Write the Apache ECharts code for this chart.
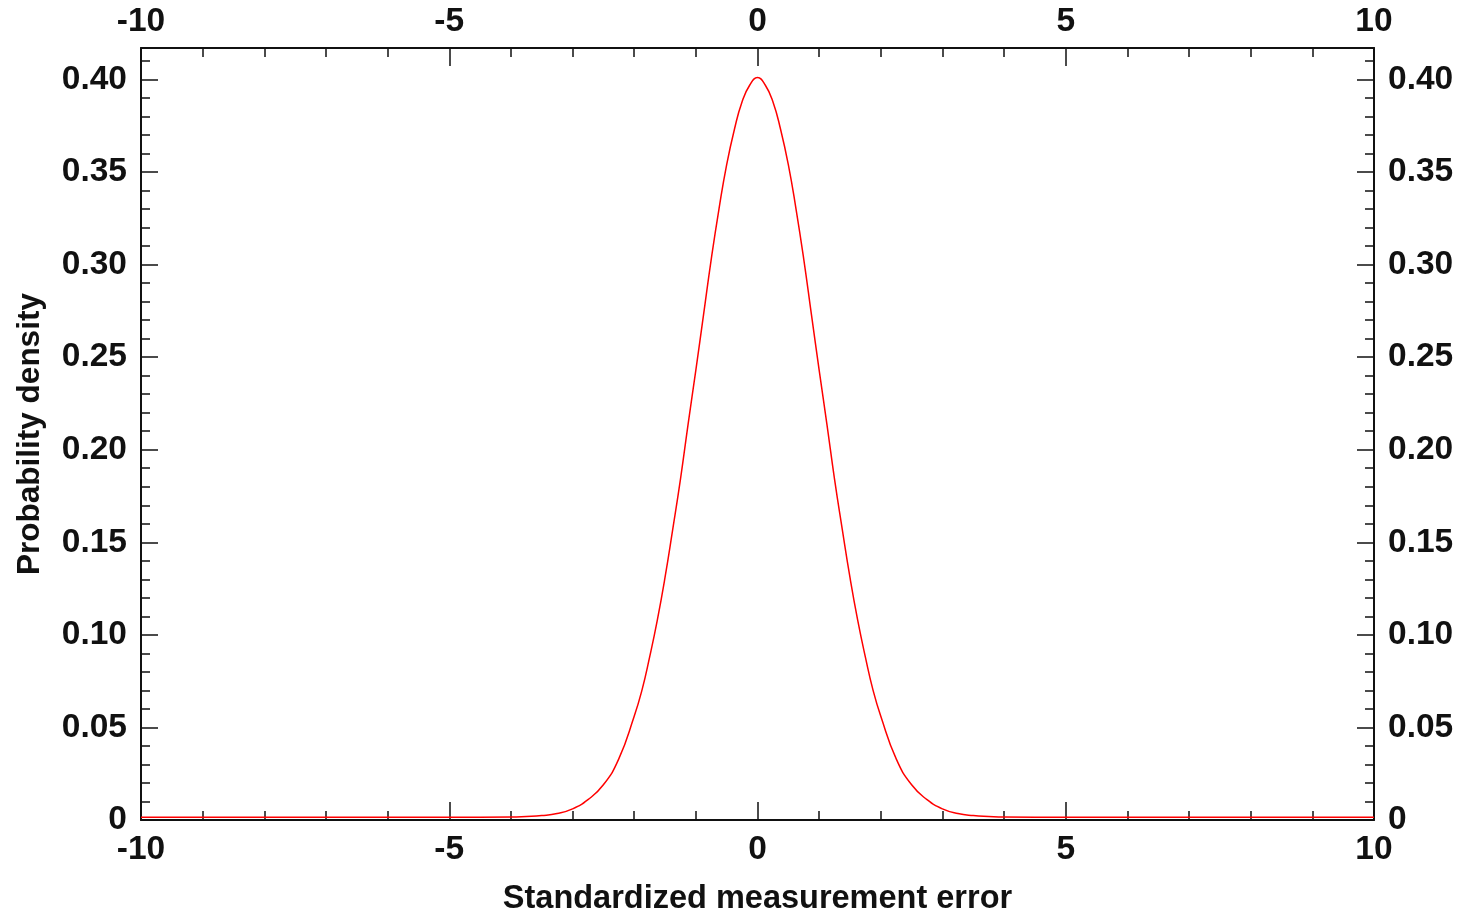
<!DOCTYPE html>
<html>
	<head>
		<meta charset="utf-8">
		<title>Probability density</title>
		<script src="https://cdn.jsdelivr.net/npm/echarts@6/dist/echarts.min.js"></script>
		<style type="text/css">
			html, body {
				margin: 0;
				padding: 0;
				background: #fff;
			}
			#chart {
				width: 1465px;
				height: 913px;
			}
		</style>
	</head>
	<body>
		<div id="chart"></div>
		<script>
			// values (x = standardized error, y = density)
			var errX = [-10, -5, -4, -3.75, -3.5, -3.25, -3, -2.75, -2.5, -2.25, -2, -1.875, -1.75, -1.625, -1.5, -1.375, -1.25, -1.125,
				-1, -0.875, -0.75, -0.625, -0.5, -0.375, -0.25, -0.125, 0,
				0.125, 0.25, 0.375, 0.5, 0.625, 0.75, 0.875, 1,
				1.125, 1.25, 1.375, 1.5, 1.625, 1.75, 1.875, 2, 2.25, 2.5, 2.75, 3, 3.25, 3.5, 3.75, 4, 5, 10];
			var density = [0.0015, 0.0015, 0.0016, 0.0019, 0.0024, 0.0035, 0.006, 0.011, 0.019, 0.033, 0.056, 0.070, 0.088, 0.108, 0.131, 0.157, 0.184, 0.214,
				0.243, 0.273, 0.303, 0.330, 0.354, 0.373, 0.388, 0.397, 0.401,
				0.397, 0.388, 0.373, 0.354, 0.330, 0.303, 0.273, 0.243,
				0.214, 0.184, 0.157, 0.131, 0.108, 0.088, 0.070, 0.056, 0.033, 0.019, 0.011, 0.006, 0.0035, 0.0024, 0.0019, 0.0016, 0.0015, 0.0015];
			var xTicks = [-10, -5, 0, 5, 10];
			var yTicks = [0, 0.05, 0.10, 0.15, 0.20, 0.25, 0.30, 0.35, 0.40];

			var font = 'Liberation Sans, Arial, sans-serif';
			var ink = '#111';

			var points = [];
			for (var i = 0; i < errX.length; i++) {
				points.push([errX[i], density[i]]);
			}

			var xAxisOf = function(pos) {
				return {
					type: 'value',
					position: pos,
					min: xTicks[0],
					max: xTicks[xTicks.length - 1],
					interval: 5,
					name: pos == 'bottom' ? 'Standardized measurement error' : '',
					nameLocation: 'middle',
					nameGap: 63,
					nameTextStyle: { fontFamily: font, fontSize: 32.5, fontWeight: 'bold', color: ink },
					axisLine: { show: true, onZero: false, lineStyle: { color: ink, width: 2 } },
					axisTick: { show: true, inside: true, length: 18, lineStyle: { color: ink, width: 1.5 } },
					minorTick: { show: true, splitNumber: 5, length: 9, lineStyle: { color: ink, width: 1.5 } },
					axisLabel: { fontFamily: font, fontSize: 33.5, fontWeight: 'bold', color: ink, margin: pos == 'bottom' ? 13 : 9 },
					splitLine: { show: false }
				};
			};

			var yMajor = function(pos) {
				return {
					type: 'value',
					position: pos,
					min: 0,
					max: 0.417,
					interval: 0.05,
					name: pos == 'left' ? 'Probability density' : '',
					nameLocation: 'middle',
					nameGap: 95,
					nameTextStyle: { fontFamily: font, fontSize: 31.5, fontWeight: 'bold', color: ink },
					axisLine: { show: true, onZero: false, lineStyle: { color: ink, width: 2 } },
					axisTick: { show: true, inside: true, length: 17, lineStyle: { color: ink, width: 1.5 } },
					axisLabel: {
						fontFamily: font, fontSize: 33.5, fontWeight: 'bold', color: ink, margin: 14,
						showMaxLabel: false,
						formatter: function(v) {
							return v == 0 ? '0' : v.toFixed(2);
						}
					},
					splitLine: { show: false }
				};
			};

			var yMinor = function(pos) {
				return {
					type: 'value',
					position: pos,
					min: 0,
					max: 0.417,
					interval: 0.01,
					axisLine: { show: false, onZero: false },
					axisTick: { show: true, inside: true, length: 9, lineStyle: { color: ink, width: 1.5 } },
					axisLabel: { show: false },
					splitLine: { show: false }
				};
			};

			var chart = echarts.init(document.getElementById('chart'));
			chart.setOption({
				animation: false,
				backgroundColor: '#fff',
				grid: { left: 141, right: 91, top: 48, bottom: 93, containLabel: false, outerBoundsMode: 'none' },
				xAxis: [xAxisOf('bottom'), xAxisOf('top')],
				yAxis: [yMajor('left'), yMinor('left'), yMajor('right'), yMinor('right')],
				series: [{
					type: 'line',
					xAxisIndex: 0,
					yAxisIndex: 0,
					data: points,
					smooth: true,
					showSymbol: false,
					lineStyle: { color: '#ff0000', width: 1.5 }
				}]
			});
		</script>
	</body>
</html>
